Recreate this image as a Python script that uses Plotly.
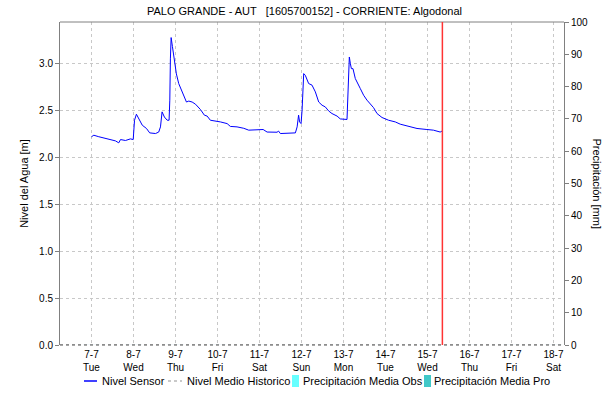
import plotly.graph_objects as go

TITLE = "PALO GRANDE - AUT   [1605700152] - CORRIENTE: Algodonal"

sensor_times = [
    "2020-07-07 00:00", "2020-07-07 01:20", "2020-07-07 04:10", "2020-07-07 09:00",
    "2020-07-07 13:40", "2020-07-07 15:35", "2020-07-07 16:35", "2020-07-07 19:25",
    "2020-07-07 22:15", "2020-07-07 23:50", "2020-07-08 00:35", "2020-07-08 01:40",
    "2020-07-08 03:00", "2020-07-08 05:00", "2020-07-08 07:25", "2020-07-08 09:15",
    "2020-07-08 12:35", "2020-07-08 14:25", "2020-07-08 15:25", "2020-07-08 16:20",
    "2020-07-08 17:40", "2020-07-08 19:15", "2020-07-08 20:20", "2020-07-08 20:45",
    "2020-07-08 21:05", "2020-07-08 21:30", "2020-07-08 22:15", "2020-07-08 23:00",
    "2020-07-09 00:30", "2020-07-09 01:50", "2020-07-09 03:45", "2020-07-09 06:15",
    "2020-07-09 07:35", "2020-07-09 09:30", "2020-07-09 11:25", "2020-07-09 14:15",
    "2020-07-09 16:30", "2020-07-09 18:05", "2020-07-09 19:55", "2020-07-09 23:45",
    "2020-07-10 01:40", "2020-07-10 05:30", "2020-07-10 07:20", "2020-07-10 11:10",
    "2020-07-10 15:00", "2020-07-10 17:50", "2020-07-11 00:30", "2020-07-11 02:05",
    "2020-07-11 04:20", "2020-07-11 10:00", "2020-07-11 10:55", "2020-07-11 11:55",
    "2020-07-11 20:30", "2020-07-11 21:30", "2020-07-11 22:20", "2020-07-11 22:55",
    "2020-07-11 23:45", "2020-07-12 00:20", "2020-07-12 01:15", "2020-07-12 02:10",
    "2020-07-12 04:05", "2020-07-12 06:00", "2020-07-12 07:55", "2020-07-12 09:50",
    "2020-07-12 11:45", "2020-07-12 13:35", "2020-07-12 15:30", "2020-07-12 17:25",
    "2020-07-12 20:20", "2020-07-12 22:10", "2020-07-13 02:00", "2020-07-13 02:35",
    "2020-07-13 03:20", "2020-07-13 03:55", "2020-07-13 04:30", "2020-07-13 05:25",
    "2020-07-13 06:45", "2020-07-13 09:35", "2020-07-13 11:30", "2020-07-13 13:25",
    "2020-07-13 15:20", "2020-07-13 17:10", "2020-07-13 19:10", "2020-07-13 22:00",
    "2020-07-14 01:45", "2020-07-14 05:35", "2020-07-14 08:25", "2020-07-14 14:10",
    "2020-07-14 18:00", "2020-07-14 23:40", "2020-07-15 03:25", "2020-07-15 07:15",
    "2020-07-15 08:15",
]
sensor_level = [
    2.22, 2.236, 2.22, 2.197,
    2.176, 2.155, 2.19, 2.18,
    2.197, 2.19, 2.396, 2.46,
    2.414, 2.343, 2.308, 2.261,
    2.254, 2.27, 2.325, 2.485,
    2.43, 2.396, 2.396, 2.61,
    3.05, 3.277, 3.18, 3.07,
    2.89, 2.787, 2.698, 2.59,
    2.60, 2.59, 2.567, 2.51,
    2.45, 2.44, 2.396, 2.389,
    2.378, 2.36, 2.33, 2.325,
    2.31, 2.29, 2.29, 2.297,
    2.27, 2.268, 2.28, 2.254,
    2.261, 2.325, 2.45, 2.378,
    2.36, 2.503, 2.893, 2.875,
    2.787, 2.77, 2.698, 2.59,
    2.556, 2.538, 2.495, 2.467,
    2.44, 2.41, 2.404, 2.75,
    3.07, 3.0, 2.946, 2.946,
    2.84, 2.734, 2.662, 2.61,
    2.574, 2.53, 2.467, 2.425,
    2.396, 2.378, 2.354, 2.33,
    2.308, 2.297, 2.29, 2.27,
    2.28,
]

day_ticks = ["2020-07-07", "2020-07-08", "2020-07-09", "2020-07-10", "2020-07-11", "2020-07-12",
             "2020-07-13", "2020-07-14", "2020-07-15", "2020-07-16", "2020-07-17", "2020-07-18"]
day_labels = ["7-7<br>Tue", "8-7<br>Wed", "9-7<br>Thu", "10-7<br>Fri", "11-7<br>Sat", "12-7<br>Sun",
              "13-7<br>Mon", "14-7<br>Tue", "15-7<br>Wed", "16-7<br>Thu", "17-7<br>Fri", "18-7<br>Sat"]

hist_times = ["2020-07-06 06:00", "2020-07-18 06:00"]
hist_level = [0.0, 0.0]

precip_obs = [0] * len(day_ticks)
precip_pro = [0] * len(day_ticks)

NOW = "2020-07-15 08:30"
X_RANGE = ["2020-07-06 06:00", "2020-07-18 06:00"]
Y_RANGE = [0, 3.443]
Y2_RANGE = [0, 100]

SERIES_NAMES = ["Nivel Sensor", "Nivel Medio Historico",
                "Precipitación Media Obs", "Precipitación Media Pro"]
SERIES_COLORS = ["#0000ff", "#b8b8b8", "#66ffff", "#40c8c8"]

FONT = "Liberation Sans, Arial, sans-serif"
W, H = 609, 401
ML, MR, MT, MB = 60, 45, 22, 56
PW, PH = W - ML - MR, H - MT - MB


def px_x(p):
    return (p - ML) / PW


def px_y(p):
    return (H - MB - p) / PH


fig = go.Figure()
fig.add_trace(go.Scatter(x=sensor_times, y=sensor_level, mode="lines", name=SERIES_NAMES[0],
                         line=dict(color=SERIES_COLORS[0], width=1)))
fig.add_trace(go.Scatter(x=hist_times, y=hist_level, mode="lines", name=SERIES_NAMES[1],
                         line=dict(color=SERIES_COLORS[1], width=1.5, dash="dot"),
                         cliponaxis=False))
fig.add_trace(go.Bar(x=day_ticks, y=precip_obs, name=SERIES_NAMES[2],
                     marker_color=SERIES_COLORS[2], yaxis="y2"))
fig.add_trace(go.Bar(x=day_ticks, y=precip_pro, name=SERIES_NAMES[3],
                     marker_color=SERIES_COLORS[3], yaxis="y2"))

grid = dict(showgrid=True, gridcolor="#c8c8c8", griddash="dot", gridwidth=1)

# legend (drawn manually, one row, compact symbols)
LEG_Y = 381
leg_shapes = [
    dict(type="line", xref="paper", yref="paper", x0=px_x(84), x1=px_x(97),
         y0=px_y(LEG_Y), y1=px_y(LEG_Y), line=dict(color=SERIES_COLORS[0], width=1.5)),
    dict(type="line", xref="paper", yref="paper", x0=px_x(168), x1=px_x(182),
         y0=px_y(LEG_Y), y1=px_y(LEG_Y), line=dict(color=SERIES_COLORS[1], width=1.5, dash="dot")),
    dict(type="rect", xref="paper", yref="paper", x0=px_x(292), x1=px_x(299),
         y0=px_y(LEG_Y + 6), y1=px_y(LEG_Y - 6), line=dict(width=0), fillcolor=SERIES_COLORS[2]),
    dict(type="rect", xref="paper", yref="paper", x0=px_x(424), x1=px_x(431),
         y0=px_y(LEG_Y + 6), y1=px_y(LEG_Y - 6), line=dict(width=0), fillcolor=SERIES_COLORS[3]),
]
leg_text_x = [100, 185, 301, 432]
leg_annots = [
    dict(text=name, xref="paper", yref="paper", x=px_x(tx), y=px_y(LEG_Y), showarrow=False,
         xanchor="left", yanchor="middle", font=dict(family=FONT, size=11, color="#000"))
    for name, tx in zip(SERIES_NAMES, leg_text_x)
]

fig.update_layout(
    width=W, height=H,
    margin=dict(l=ML, r=MR, t=MT, b=MB, autoexpand=False),
    paper_bgcolor="white", plot_bgcolor="white",
    font=dict(family=FONT, size=11, color="#000000"),
    title=dict(text=TITLE, x=0.5, xanchor="center", xref="container", yref="container",
               y=1 - 11 / H, yanchor="middle",
               font=dict(family=FONT, size=11, color="#000")),
    showlegend=False,
    bargap=0.6,
    xaxis=dict(range=X_RANGE, tickvals=day_ticks, ticktext=day_labels, showline=False,
               zeroline=False, ticks="", tickfont=dict(size=10), automargin=False,
               ticklabelstandoff=2, **grid),
    yaxis=dict(range=Y_RANGE, dtick=0.5, tickformat=".1f", showline=True, linecolor="#808080",
               linewidth=1, ticks="outside", ticklen=4, tickcolor="#808080", zeroline=False,
               title=dict(text="Nivel del Agua [m]", font=dict(size=11), standoff=8),
               tickfont=dict(size=10), automargin=False, **grid),
    yaxis2=dict(range=Y2_RANGE, dtick=10, overlaying="y", side="right", showline=True,
                linecolor="#808080", linewidth=1, ticks="outside", ticklen=4,
                tickcolor="#808080", showgrid=False, zeroline=False, tickfont=dict(size=10),
                automargin=False),
    shapes=[
        dict(type="line", xref="paper", yref="paper", x0=0, x1=1, y0=1, y1=1,
             line=dict(color="#808080", width=1)),
        dict(type="line", xref="paper", yref="paper", x0=0, x1=1, y0=0, y1=0,
             line=dict(color="#505050", width=1, dash="dot")),
        dict(type="line", xref="x", yref="paper", x0=NOW, x1=NOW, y0=0, y1=1,
             line=dict(color="#ff3333", width=1.5)),
    ] + leg_shapes,
    annotations=[
        dict(text="Precipitación [mm]", xref="paper", yref="paper", x=1, xshift=33, y=0.5,
             textangle=90, showarrow=False, font=dict(family=FONT, size=11),
             xanchor="center", yanchor="middle"),
    ] + leg_annots,
)

fig.write_html("out.html", config={"displayModeBar": False},
               post_script="document.body.style.margin='0';")
